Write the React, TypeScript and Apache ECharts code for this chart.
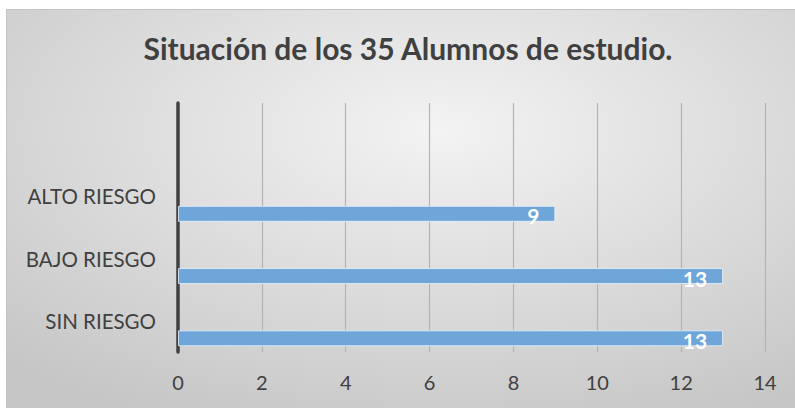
import React, { useEffect, useRef } from "react";
import * as echarts from "echarts";

const categories = ["SIN RIESGO", "BAJO RIESGO", "ALTO RIESGO", ""];
const values = [13, 13, 9, null];
const spacer = [null, null, null, null];
const xTicks = { min: 0, max: 14, interval: 2 };
const titleText = "Situación de los 35 Alumnos de estudio.";

const FONT = "Lato, 'Open Sans', sans-serif";

export default function App() {
  const ref = useRef<HTMLDivElement>(null);
  useEffect(() => {
    if (!ref.current) return;
    const chart = echarts.init(ref.current, undefined, { renderer: "svg" });
    chart.setOption({
      animation: false,
      backgroundColor: new echarts.graphic.RadialGradient(0.55, 0.3, 0.8, [
        { offset: 0, color: "#f3f3f3" },
        { offset: 1, color: "#c6c6c6" },
      ]),
      title: {
        text: titleText,
        left: 396,
        top: 33,
        textAlign: "center",
        textVerticalAlign: "middle",
        textStyle: {
          fontFamily: FONT,
          fontWeight: "bold",
          fontSize: 30,
          color: "#404040",
        },
      },
      grid: { left: 171, right: 30, top: 93, bottom: 56, containLabel: false },
      xAxis: {
        type: "value",
        min: xTicks.min,
        max: xTicks.max,
        interval: xTicks.interval,
        axisLine: { show: false },
        axisTick: { show: false },
        axisLabel: {
          fontFamily: FONT,
          fontSize: 20,
          color: "#404040",
          margin: 20,
        },
        splitLine: { show: true, lineStyle: { color: "#b3b3b3", width: 1.2 } },
      },
      yAxis: {
        type: "category",
        data: categories,
        axisLine: { show: true, lineStyle: { color: "#404040", width: 3.5 } },
        axisTick: { show: false },
        axisLabel: {
          fontFamily: FONT,
          fontSize: 20.5,
          color: "#404040",
          margin: 22,
        },
        splitLine: { show: false },
      },
      series: [
        {
          type: "bar",
          data: spacer,
          barWidth: 16,
          barGap: "118%",
          silent: true,
        },
        {
          type: "bar",
          data: values,
          barWidth: 16,
          itemStyle: {
            color: "#6fa6d9",
            borderColor: "rgba(235,242,250,0.8)",
            borderWidth: 1,
          },
          label: {
            show: true,
            position: "insideRight",
            distance: 16,
            offset: [0, 2],
            fontFamily: FONT,
            fontWeight: "bold",
            fontSize: 21,
            color: "#ffffff",
          },
        },
      ],
    });
    return () => chart.dispose();
  }, []);
  return (
    <div
      style={{
        position: "absolute",
        left: 6,
        top: 9,
        border: "1px solid #c4c4c4",
      }}
    >
      <div ref={ref} style={{ width: 788, height: 398 }} />
    </div>
  );
}
